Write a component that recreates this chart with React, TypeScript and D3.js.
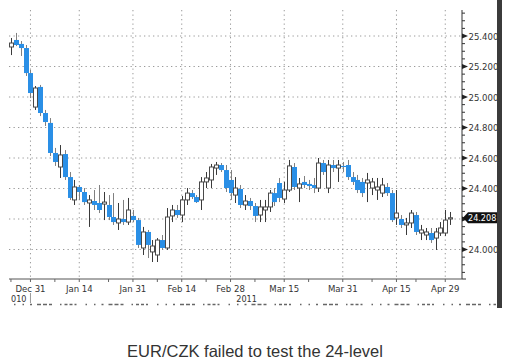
import React from "react";
import * as d3 from "d3";

// ---- DATA ----
const dates: string[] = [
  "2010-12-27","2010-12-28","2010-12-29","2010-12-30","2010-12-31",
  "2011-01-03","2011-01-04","2011-01-05","2011-01-06","2011-01-07",
  "2011-01-10","2011-01-11","2011-01-12","2011-01-13","2011-01-14",
  "2011-01-17","2011-01-18","2011-01-19","2011-01-20","2011-01-21",
  "2011-01-24","2011-01-25","2011-01-26","2011-01-27","2011-01-28",
  "2011-01-31","2011-02-01","2011-02-02","2011-02-03","2011-02-04",
  "2011-02-07","2011-02-08","2011-02-09","2011-02-10","2011-02-11",
  "2011-02-14","2011-02-15","2011-02-16","2011-02-17","2011-02-18",
  "2011-02-21","2011-02-22","2011-02-23","2011-02-24","2011-02-25",
  "2011-02-28","2011-03-01","2011-03-02","2011-03-03","2011-03-04",
  "2011-03-07","2011-03-08","2011-03-09","2011-03-10","2011-03-11",
  "2011-03-14","2011-03-15","2011-03-16","2011-03-17","2011-03-18",
  "2011-03-21","2011-03-22","2011-03-23","2011-03-24","2011-03-25",
  "2011-03-28","2011-03-29","2011-03-30","2011-03-31","2011-04-01",
  "2011-04-04","2011-04-05","2011-04-06","2011-04-07","2011-04-08",
  "2011-04-11","2011-04-12","2011-04-13","2011-04-14","2011-04-15",
  "2011-04-18","2011-04-19","2011-04-20","2011-04-21","2011-04-22",
  "2011-04-25","2011-04-26","2011-04-27","2011-04-28","2011-04-29",
  "2011-05-02",
];

const open: number[] = [
  25.328,25.374,25.348,25.321,25.157,24.934,25.066,24.895,24.830,24.633,
  24.541,24.626,24.475,24.325,24.410,24.377,24.305,24.318,24.305,24.298,
  24.292,24.213,24.174,24.200,24.180,24.220,24.193,24.010,24.115,23.984,
  23.964,24.062,24.010,24.220,24.259,24.226,24.325,24.370,24.344,24.325,
  24.443,24.456,24.534,24.554,24.521,24.456,24.357,24.397,24.292,24.318,
  24.285,24.226,24.259,24.279,24.370,24.436,24.331,24.390,24.541,24.403,
  24.443,24.430,24.423,24.403,24.567,24.403,24.554,24.534,24.548,24.554,
  24.475,24.456,24.443,24.436,24.403,24.390,24.370,24.410,24.370,24.207,
  24.200,24.161,24.174,24.226,24.108,24.095,24.108,24.075,24.108,24.108,
  24.200,
];
const high: number[] = [
  25.387,25.420,25.367,25.341,25.177,25.072,25.079,24.915,24.862,24.666,
  24.685,24.652,24.508,24.456,24.423,24.403,24.357,24.390,24.423,24.377,
  24.357,24.370,24.305,24.325,24.338,24.259,24.207,24.148,24.128,24.062,
  24.075,24.095,24.272,24.292,24.292,24.351,24.403,24.390,24.357,24.475,
  24.508,24.561,24.574,24.567,24.554,24.521,24.475,24.423,24.357,24.338,
  24.305,24.325,24.325,24.390,24.403,24.469,24.443,24.587,24.567,24.469,
  24.482,24.456,24.469,24.600,24.587,24.587,24.587,24.587,24.574,24.587,
  24.508,24.489,24.469,24.502,24.469,24.469,24.469,24.436,24.390,24.390,
  24.226,24.207,24.259,24.246,24.161,24.141,24.141,24.141,24.180,24.259,
  24.246,
];
const low: number[] = [
  25.275,25.334,25.269,25.138,24.993,24.915,24.875,24.810,24.613,24.548,
  24.469,24.456,24.325,24.292,24.325,24.292,24.148,24.259,24.239,24.193,
  24.193,24.161,24.128,24.161,24.161,24.180,24.010,23.964,23.944,23.918,
  23.918,23.997,23.997,24.180,24.207,24.180,24.292,24.331,24.305,24.259,
  24.403,24.403,24.489,24.508,24.377,24.325,24.305,24.272,24.259,24.259,
  24.180,24.180,24.180,24.246,24.285,24.311,24.305,24.377,24.390,24.311,
  24.403,24.390,24.370,24.377,24.489,24.370,24.508,24.443,24.508,24.456,
  24.423,24.370,24.344,24.311,24.357,24.325,24.344,24.351,24.180,24.161,
  24.141,24.095,24.141,24.095,24.062,24.062,24.043,23.997,24.089,24.089,
  24.161,
];
const close: number[] = [
  25.354,25.341,25.321,25.157,25.026,25.059,24.895,24.836,24.633,24.574,
  24.620,24.475,24.338,24.410,24.377,24.311,24.325,24.292,24.259,24.311,
  24.213,24.180,24.200,24.180,24.259,24.193,24.030,24.115,24.030,24.023,
  24.062,24.010,24.213,24.259,24.226,24.325,24.370,24.344,24.311,24.443,
  24.469,24.541,24.554,24.521,24.403,24.370,24.403,24.292,24.318,24.285,
  24.220,24.279,24.279,24.370,24.311,24.338,24.390,24.548,24.410,24.430,
  24.423,24.416,24.403,24.567,24.508,24.554,24.534,24.554,24.541,24.475,
  24.443,24.390,24.370,24.456,24.443,24.410,24.423,24.370,24.193,24.239,
  24.161,24.174,24.239,24.115,24.128,24.115,24.062,24.115,24.141,24.193,
  24.208,
];

const yTickValues: number[] = [24.0, 24.2, 24.4, 24.6, 24.8, 25.0, 25.2, 25.4];
const yTickLabels: string[] = ["24.000", "", "24.400", "24.600", "24.800", "25.000", "25.200", "25.400"];
const lastPriceLabel = "24.208";

const xTickDates: string[] = [
  "2010-12-31","2011-01-14","2011-01-31","2011-02-14","2011-02-28",
  "2011-03-15","2011-03-31","2011-04-15","2011-04-29",
];
const xTickLabels: string[] = ["Dec 31","Jan 14","Jan 31","Feb 14","Feb 28","Mar 15","Mar 31","Apr 15","Apr 29"];
const xMinorTickDates: string[] = [
  "2010-12-27","2010-12-31","2011-01-07","2011-01-14","2011-01-24","2011-01-31",
  "2011-02-07","2011-02-14","2011-02-21","2011-02-28","2011-03-07","2011-03-15",
  "2011-03-22","2011-03-31","2011-04-08","2011-04-15","2011-04-21","2011-04-29",
];
const title = "EUR/CZK failed to test the 24-level";

// ---- CHART ----
const W = 505;
const H = 363;
const axisX = 462;
const plotTop = 10;
const plotBottom = 279;
const plotLeft = 9;

const BLUE = "#2a8fe6";
const AXIS_FONT = "'DejaVu Sans Condensed', 'Liberation Sans Narrow', 'Liberation Sans', sans-serif";

export default function App() {
  const x = d3.scaleBand<string>().domain(dates).range([8.5, 8.5 + 4.88 * dates.length]).padding(0);
  const step = x.step();
  const cx = (d: string) => (x(d) as number) + step / 2;
  const y = d3.scaleLinear().domain([24.0, 25.4]).range([249.5, 36]);
  const bodyW = 4;

  const minorY = d3.range(0, 36).map((k) => 23.85 + k * 0.05).filter((v) => y(v) > plotTop && y(v) < plotBottom);

  return (
    <svg
      width={W}
      height={H}
      viewBox={`0 0 ${W} ${H}`}
      style={{ position: "absolute", left: 0, top: 0, background: "#fff" }}
    >
      <rect x={0} y={0} width={W} height={H} fill="#fff" />
      {/* horizontal grid */}
      {yTickValues.map((v) => (
        <line key={"hg" + v} x1={plotLeft} x2={axisX} y1={y(v)} y2={y(v)}
          stroke="#9a9a9a" strokeWidth={1} strokeDasharray="1.3,3.2" />
      ))}
      {/* vertical grid */}
      {xTickDates.map((d) => (
        <line key={"vg" + d} x1={cx(d)} x2={cx(d)} y1={plotTop} y2={plotBottom}
          stroke="#9a9a9a" strokeWidth={1} strokeDasharray="1.3,3.2" />
      ))}

      {/* candles */}
      {dates.map((d, i) => {
        const up = close[i] >= open[i];
        const xc = Math.round(cx(d)) + 0.5;
        const top = y(Math.max(open[i], close[i]));
        const bot = y(Math.min(open[i], close[i]));
        const h = Math.max(1, bot - top);
        return (
          <g key={d}>
            <line x1={xc} x2={xc} y1={y(high[i])} y2={y(low[i])}
              stroke={up ? "#3a3a3a" : "#808080"} strokeWidth={1} />
            {up ? (
              <rect x={xc - bodyW / 2} y={top} width={bodyW} height={h}
                fill="#ffffff" stroke="#4a4a4a" strokeWidth={1} />
            ) : (
              <rect x={xc - bodyW / 2 - 0.5} y={top} width={bodyW + 1} height={h}
                fill={BLUE} stroke="none" />
            )}
          </g>
        );
      })}

      {/* right axis */}
      <line x1={axisX} x2={axisX} y1={plotTop} y2={plotBottom} stroke="#333" strokeWidth={1} />
      <line x1={axisX} x2={axisX + 4} y1={plotBottom} y2={plotBottom} stroke="#333" strokeWidth={1} />
      {minorY.map((v) => (
        <line key={"my" + v} x1={axisX} x2={axisX + 3} y1={y(v)} y2={y(v)} stroke="#333" strokeWidth={1} />
      ))}
      {yTickValues.map((v, i) => (
        <g key={"yt" + v}>
          <path d={`M${axisX},${y(v) - 2.5} L${axisX + 6},${y(v)} L${axisX},${y(v) + 2.5} Z`} fill="#222" />
          {yTickLabels[i] && (
            <text x={axisX + 6.5} y={y(v) + 3.5} fontFamily={AXIS_FONT} fontSize={9.5} fill="#333">
              {yTickLabels[i]}
            </text>
          )}
        </g>
      ))}
      {/* last price tag */}
      {(() => {
        const yy = y(close[close.length - 1]);
        return (
          <g>
            <path d={`M${axisX + 1},${yy} L${axisX + 6},${yy - 5.5} L${497},${yy - 5.5} L${497},${yy + 5.5} L${axisX + 6},${yy + 5.5} Z`} fill="#111" />
            <text x={axisX + 6} y={yy + 3.3} fontFamily={AXIS_FONT} fontSize={9} fill="#fff">{lastPriceLabel}</text>
          </g>
        );
      })()}

      {/* bottom axis */}
      <line x1={plotLeft} x2={axisX} y1={plotBottom} y2={plotBottom} stroke="#555" strokeWidth={1} />
      {xMinorTickDates.map((d) => (
        <line key={"mt" + d} x1={cx(d)} x2={cx(d)} y1={plotBottom} y2={plotBottom + 3} stroke="#666" strokeWidth={1} />
      ))}
      {xTickDates.map((d, i) => (
        <text key={"xl" + d} x={cx(d)} y={292} textAnchor="middle" fontFamily={AXIS_FONT} fontSize={9.5} fill="#333">
          {xTickLabels[i]}
        </text>
      ))}
      <text x={11} y={302} fontFamily={AXIS_FONT} fontSize={9} fill="#333">010</text>
      <line x1={cx("2010-12-31")} x2={cx("2010-12-31")} y1={293} y2={303} stroke="#999" strokeWidth={1} />
      <text x={cx("2011-02-28") + 16} y={302} textAnchor="middle" fontFamily={AXIS_FONT} fontSize={9} fill="#333">2011</text>
      <line x1={14} x2={496} y1={304.5} y2={304.5} stroke="#666" strokeWidth={1.3}
        strokeDasharray="1.5,7,1.5,6,2,5,4,2,4,2,3,8,1.5,3,3,2,3,2,2,9" />

      {/* right dark bar */}
      <rect x={497} y={0} width={5} height={308} fill="#3b3b3b" />

      {/* title */}
      <text x={255} y={357} textAnchor="middle" fontFamily="'Liberation Sans', Arial, sans-serif" fontSize={16.5} fill="#333">
        {title}
      </text>
    </svg>
  );
}
